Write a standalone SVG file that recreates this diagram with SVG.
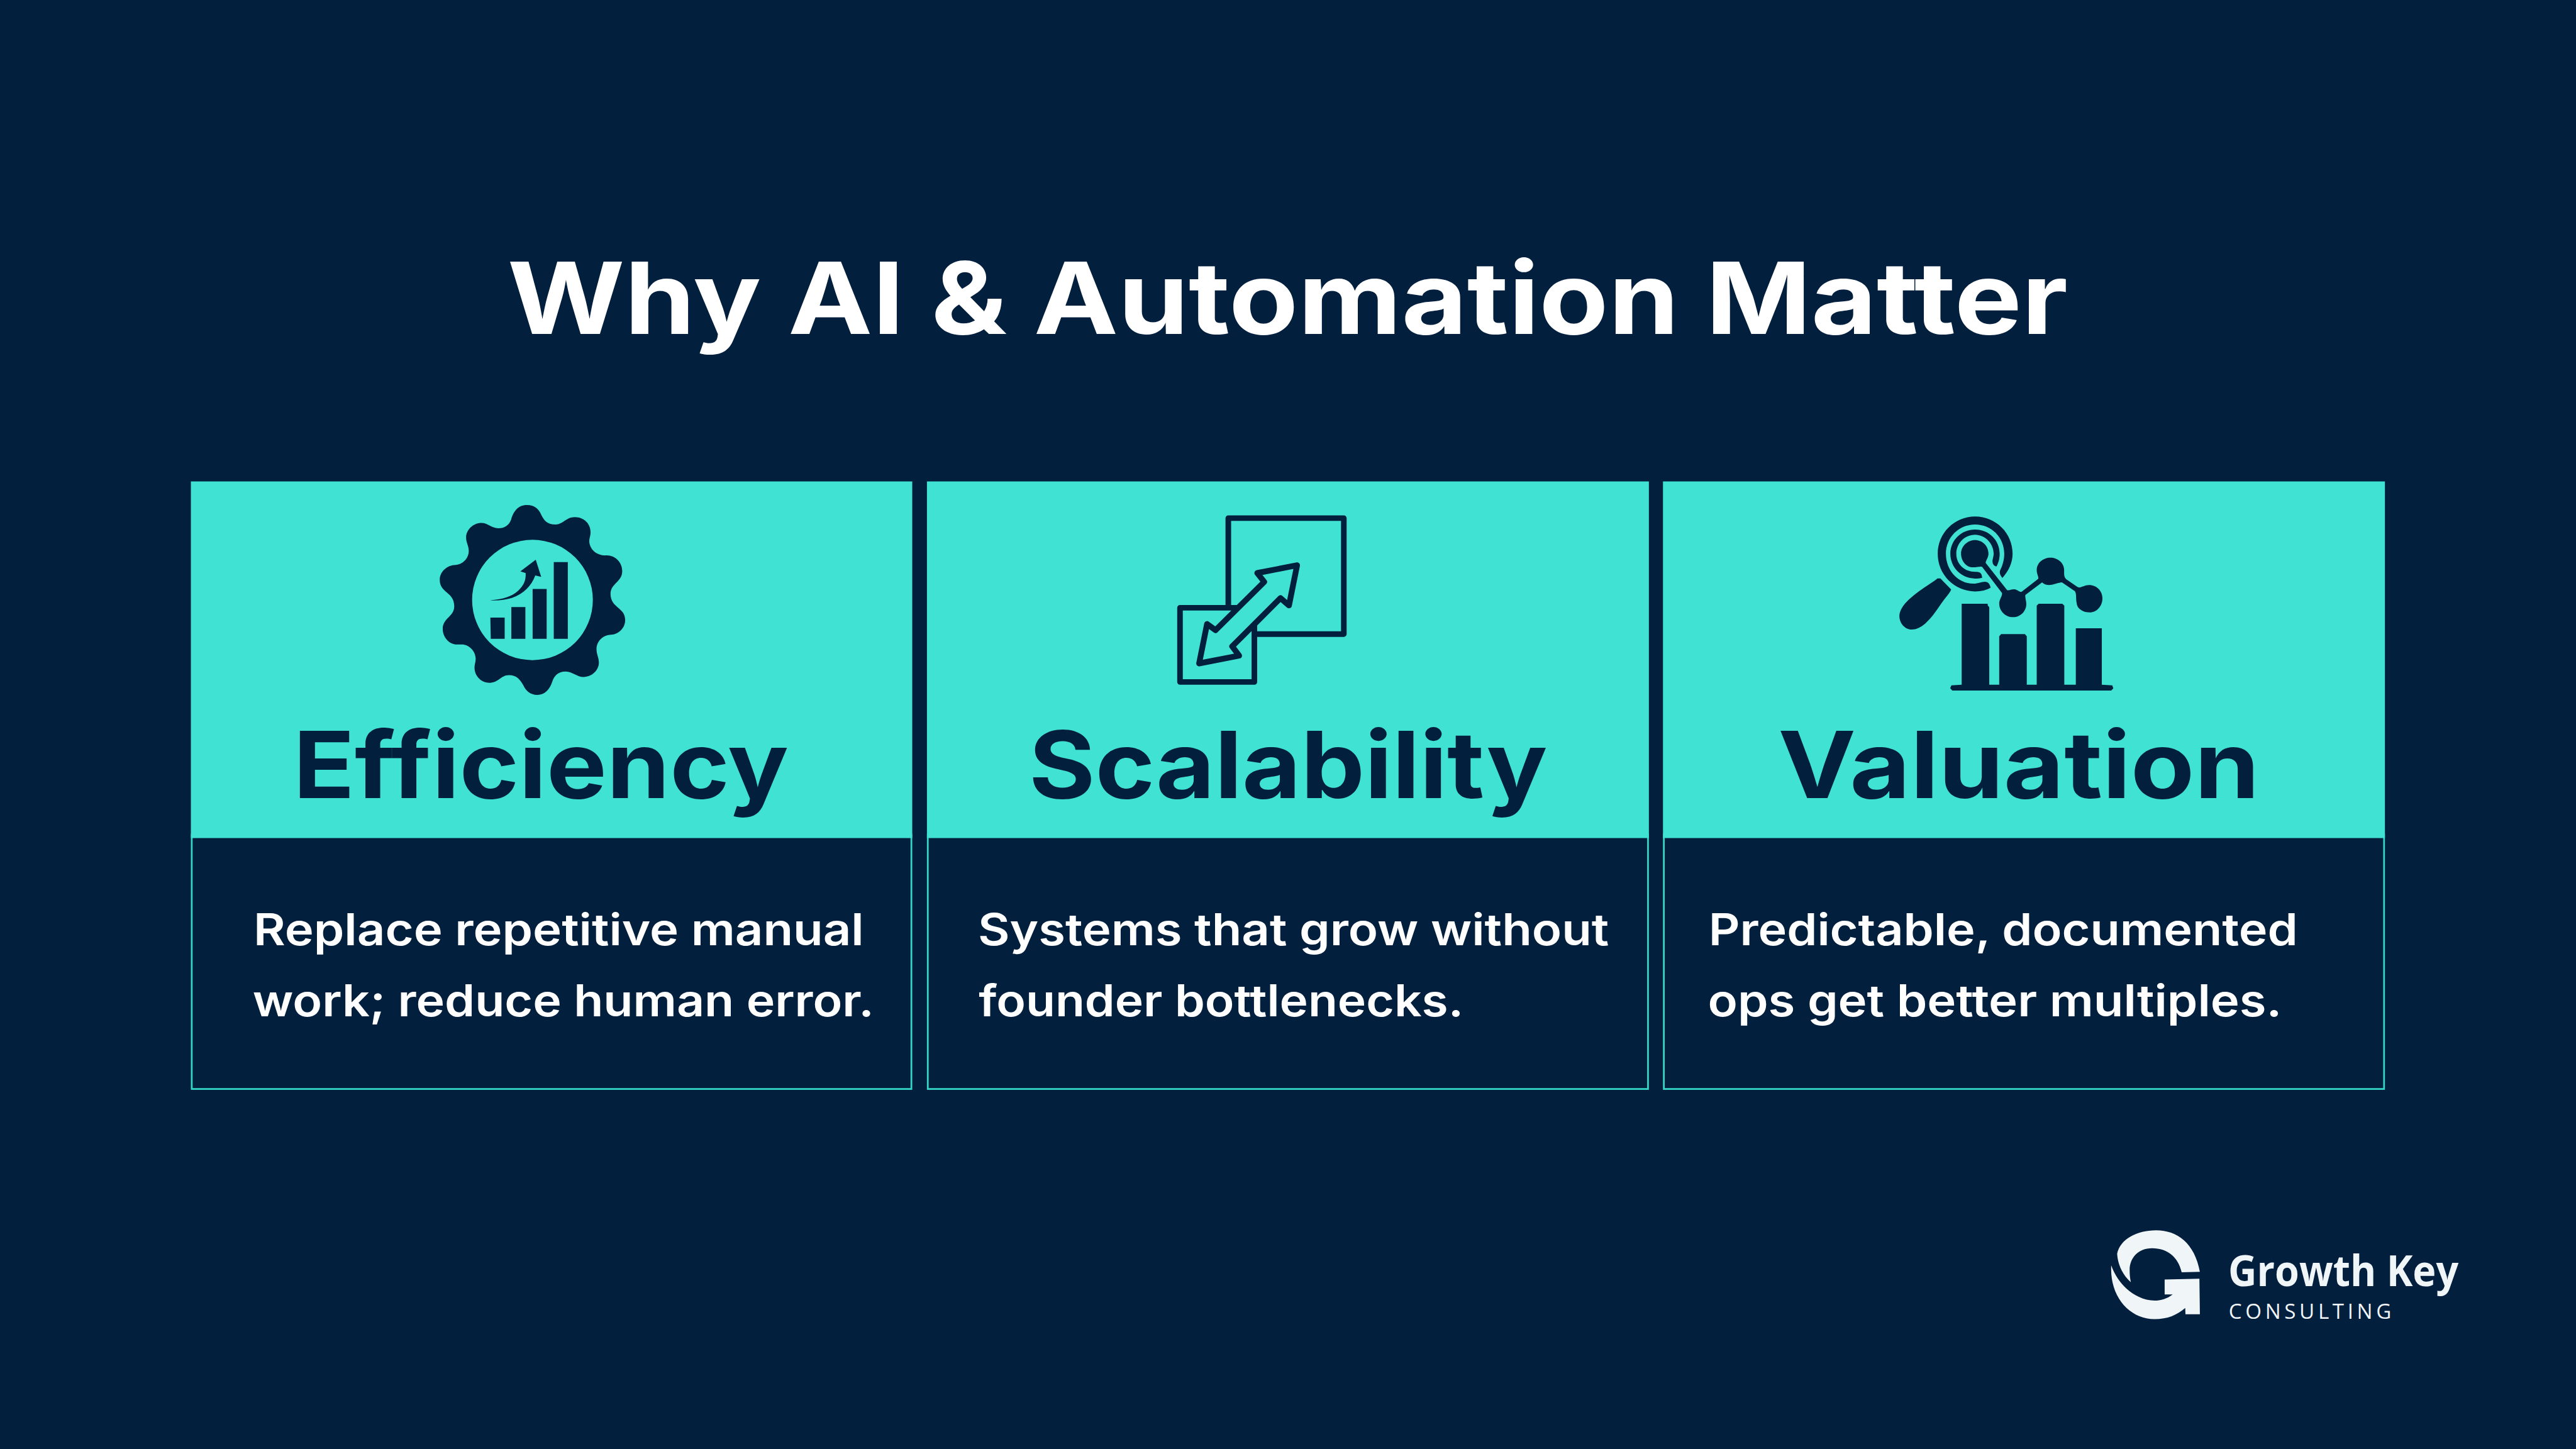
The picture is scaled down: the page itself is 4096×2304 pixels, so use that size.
<svg xmlns="http://www.w3.org/2000/svg" width="4096" height="2304" viewBox="0 0 4096 2304">
<style>
.bg{fill:#031F3E}
.teal{fill:#40E3D3}
.panel{fill:#031F3E;stroke:#34D6C8;stroke-width:4.5}
.ink{fill:#031F3E}
.line{fill:none;stroke:#031F3E;stroke-width:14.5;stroke-linejoin:round}
.arrow{fill:#40E3D3;stroke:#031F3E;stroke-width:15;stroke-linejoin:round}
text{font-family:"Inter","Liberation Sans",sans-serif}
.title{font-size:258px;font-weight:700;fill:#fff}
.head{font-size:240px;font-weight:700;fill:#031F3E}
.body{font-size:114px;font-weight:600;fill:#fff}
.brand{font-family:"Open Sans","Noto Sans",sans-serif;font-size:110px;font-weight:700;fill:#F0F5F8}
.sub{font-family:"Open Sans","Noto Sans",sans-serif;font-size:54px;font-weight:400;fill:#F0F5F8}
.logo{fill:#F0F5F8}
</style>
<rect class="bg" width="4096" height="2304"/>
<g transform="scale(0.61437)">
<text id="title" class="title" x="1313" y="864" textLength="4039" lengthAdjust="spacingAndGlyphs">Why AI &amp; Automation Matter</text>

<g id="card-efficiency">
<rect class="panel" x="496.250" y="2160" width="1862.500" height="658.400"/>
<rect class="teal" x="494" y="1246" width="1867" height="923"/>
<g transform="translate(1080,1260) scale(0.3827,0.3571)">
<path class="ink" fill-rule="evenodd" d="M742 132C790 132 820 160 835 195C855 240 875 272 935 273C985 274 1005 220 1065 220C1130 220 1172 270 1172 330C1172 355 1163 370 1163 395C1165 450 1210 497 1270 497C1340 492 1386 550 1386 610C1386 690 1307 700 1307 775C1307 880 1406 870 1406 965C1406 1025 1360 1070 1310 1072C1255 1074 1212 1120 1212 1175C1212 1215 1228 1235 1228 1275C1228 1330 1180 1378 1125 1378C1080 1378 1050 1340 1005 1338C950 1338 925 1370 912 1415C895 1470 860 1508 812 1508C765 1508 735 1480 718 1440C695 1395 670 1365 620 1365C565 1365 550 1420 490 1420C430 1420 387 1370 387 1310C387 1285 395 1270 395 1245C393 1190 350 1143 300 1143L270 1143C215 1143 172 1090 172 1030C172 950 250 940 250 865C250 760 152 770 152 675C152 615 200 568 260 566C305 564 348 520 348 465C348 425 330 405 330 365C332 310 380 262 432 262C480 262 500 300 548 300C590 300 620 280 635 235C650 180 680 132 742 132ZM779 384A408 436 0 1 0 779 1256A408 436 0 1 0 779 384Z"/>
<path class="ink" d="M494 948H591V1101H497ZM636 871H731V1101H636ZM780 740H875V1101H780ZM923 545H1018V1101H923Z"/>
<path class="ink" d="M492 822C580 815 640 795 680 755C720 715 735 680 733 625L697 613L801 528L838 652L798 642C770 720 720 775 640 805C590 822 540 825 492 822Z"/>
</g>
<text class="head" x="759" y="2065" textLength="1282" lengthAdjust="spacingAndGlyphs">Efficiency</text>
<text class="body" x="656" y="2447" textLength="1580" lengthAdjust="spacingAndGlyphs">Replace repetitive manual</text>
<text class="body" x="654" y="2630" textLength="1608" lengthAdjust="spacingAndGlyphs">work; reduce human error.</text>
</g>

<g id="card-scalability">
<rect class="panel" x="2401.250" y="2160" width="1864" height="658.400"/>
<rect class="teal" x="2399" y="1246" width="1868.500" height="923"/>
<path class="line" d="M3179 1573V1341H3478V1641H3246"/>
<rect class="line" x="3054" y="1573" width="192.500" height="192"/>
<path class="arrow" d="M3357 1463L3254 1483L3272 1506L3146 1631L3124 1615L3103.500 1717L3207 1697L3189 1673L3314 1548L3336 1567Z"/>
<text class="head" x="2663" y="2065" textLength="1342" lengthAdjust="spacingAndGlyphs">Scalability</text>
<text class="body" x="2531" y="2447" textLength="1633" lengthAdjust="spacingAndGlyphs">Systems that grow without</text>
<text class="body" x="2533" y="2630" textLength="1255" lengthAdjust="spacingAndGlyphs">founder bottlenecks.</text>
</g>

<g id="card-valuation">
<rect class="panel" x="4306.250" y="2160" width="1864" height="658.400"/>
<rect class="teal" x="4304" y="1246" width="1868.500" height="923"/>
<g class="ink" transform="translate(4860,1300) scale(0.408,0.3333)">
<path d="M790 587C830 535 855 470 855 400C855 240 750 110 617 110C485 110 380 240 380 400C380 560 485 692 617 692C655 692 690 682 716 663C710 635 700 617 680 617C655 617 640 632 605 632C510 632 432 530 432 400C432 270 515 172 617 172C720 172 802 270 802 400C802 450 790 495 777 525C768 550 780 570 790 587Z"/>
<path d="M754 497C765 470 773 440 773 400C773 295 705 212 617 212C530 212 460 295 460 400C460 505 530 592 617 592C635 592 650 590 662 586C660 560 655 540 625 540C560 545 498 490 498 400C498 320 550 252 617 252C680 252 735 320 735 400C735 420 725 450 728 465C730 485 740 497 754 497Z"/>
<path d="M616 293C665 293 702 340 702 398C702 430 685 450 684 470L820 682C830 688 850 672 870 676C885 680 900 700 912 695L1017 595C1022 575 1008 560 1008 525C1008 470 1050 430 1095 430C1140 430 1182 470 1182 525C1182 560 1180 580 1195 597L1270 660C1290 665 1310 642 1340 642C1390 642 1425 690 1425 745C1425 805 1390 855 1345 855C1305 855 1265 830 1262 785C1255 750 1262 710 1250 690L1168 622C1145 622 1120 642 1085 642C1060 642 1050 630 1042 622L936 720C933 740 942 760 942 790C942 845 905 892 858 892C810 892 770 845 770 785C770 755 790 730 788 705L662 502C650 495 630 505 605 505C560 505 528 455 528 398C528 340 570 293 616 293Z"/>
<path d="M378 591L397 591L465 677C460 700 430 740 400 790C350 880 290 988 215 988C170 988 137 935 137 885C137 790 250 700 310 650C340 625 360 610 378 591Z"/>
<path d="M532 788L697 788L697 800L707 815L707 1416L770 1416L770 1040L782 1024L933 1024L945 1040L945 1416L1008 1416L1008 803L1020 788L1170 788L1183 803L1183 1416L1256 1416L1256 978L1421 978L1421 1416L1487 1421L1494 1445L1481 1462L472 1462L459 1443L467 1421L532 1416Z"/>
</g>
<text class="head" x="4602" y="2065" textLength="1246" lengthAdjust="spacingAndGlyphs">Valuation</text>
<text class="body" x="4422" y="2447" textLength="1525" lengthAdjust="spacingAndGlyphs">Predictable, documented</text>
<text class="body" x="4420" y="2630" textLength="1486" lengthAdjust="spacingAndGlyphs">ops get better multiples.</text>
</g>

<g id="logo">
<g class="logo" transform="translate(5420,3140) scale(0.612,0.3333)">
<path d="M97 315C110 200 180 132 262 132C350 132 425 230 447 455L370 458C355 340 310 272 245 272C185 272 150 350 150 440C150 480 152 510 155 535C120 480 100 400 97 315Z"/>
<path d="M72 405C90 500 130 600 190 650C235 690 290 690 332 630L298 630L298 515L445 508L447 785L386 785L385 735C350 790 310 822 255 822C150 822 65 650 72 405Z"/>
</g>
<text class="brand" x="5767" y="3328" textLength="596" lengthAdjust="spacingAndGlyphs">Growth Key</text>
<text class="sub" x="5768" y="3413" textLength="421" lengthAdjust="spacing">CONSULTING</text>
</g>
</g>
</svg>
